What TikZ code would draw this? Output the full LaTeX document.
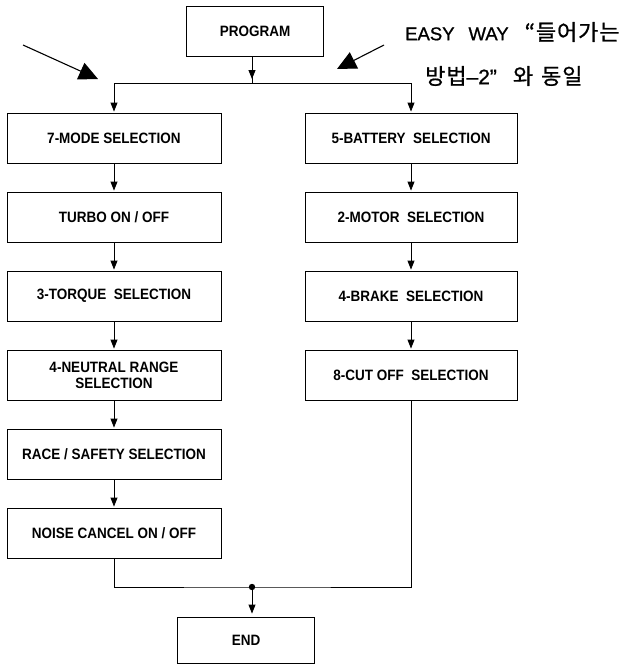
\documentclass[tikz,border=0pt]{standalone}
\usepackage{fontspec}
\setmainfont[FakeStretch=0.9]{Liberation Sans}
\newfontfamily\latfont[FakeBold=1]{Liberation Sans}
\newfontfamily\korfont[LetterSpace=4,FakeBold=0.8]{Noto Sans CJK KR}
\usepackage{tikz}
\usetikzlibrary{
	arrows.meta,
	positioning,
	calc
}

\begin{document}
\begin{tikzpicture}[x=1pt,y=-1pt,
	box/.style={draw,line width=0.9pt,minimum width=214pt,minimum height=50pt,
		inner sep=0pt,align=center,font=\bfseries\fontsize{15}{16}\selectfont},
	flow/.style={line width=0.9pt},
	tip/.style={flow,-{Triangle[length=9pt,width=7pt]},shorten >=1pt},
	bigtip/.style={line width=1.1pt,-{Triangle[length=19pt,width=18pt]}},
	note/.style={inner sep=0pt,anchor=west}]
	
	\useasboundingbox (0,0) rectangle (629,664);
	
	\newcommand\eng[1]{{\latfont\fontsize{18.5}{21}\selectfont #1}}
	\newcommand\kor[1]{{\korfont\fontsize{22}{24}\selectfont #1}}
	
	% top and bottom
	\node[box,minimum width=137pt] (prog) at (255,31) {PROGRAM};
	\node[box,minimum width=137pt,minimum height=46pt] (stop) at (246,640) {END};
	
	% left column
	\node[box] (mode) at (114,138) {7-MODE SELECTION};
	\node[box] (turbo) at (114,217) {TURBO ON / OFF};
	\node[box] (torque) at (114,296) {3-TORQUE \ SELECTION};
	\node[box] (neutral) at (114,375) {4-NEUTRAL RANGE\\SELECTION};
	\node[box] (race) at (114,454) {RACE / SAFETY SELECTION};
	\node[box] (noise) at (114,533) {NOISE CANCEL ON / OFF};
	
	% right column
	\node[box,minimum width=212pt] (batt) at (411,138) {5-BATTERY \ SELECTION};
	\node[box,minimum width=212pt] (motor) at (411,217) {2-MOTOR \ SELECTION};
	\node[box,minimum width=212pt] (brake) at (411,296) {4-BRAKE \ SELECTION};
	\node[box,minimum width=212pt] (cutoff) at (411,375) {8-CUT OFF \ SELECTION};
	
	\coordinate (split) at (252,83);
	\coordinate (join) at (252,587);
	
	\draw[flow] (split |- prog.south) -- (split);
	\draw[tip,shorten >=4pt] (split |- prog.south) -- (split);
	\draw[flow] (mode.north |- split) -- (batt.north |- split);
	\draw[tip] (mode.north |- split) -- (mode.north);
	\draw[tip] (batt.north |- split) -- (batt.north);
	
	\foreach \a/\b in {mode/turbo,turbo/torque,torque/neutral,neutral/race,race/noise,
		batt/motor,motor/brake,brake/cutoff}
		\draw[tip] (\a) -- (\b);
	
	\draw[flow] (noise.south) |- (join) -| (cutoff.south);
	\fill (join) circle (3.2pt);
	\draw[tip,shorten >=3pt] (join) -- (join |- stop.north);
	
	% pointers
	\coordinate (ptrA) at (23,45);
	\coordinate (ptrB) at (98,79);
	\coordinate (ptrC) at (384,45);
	\coordinate (ptrD) at (337,69);
	\draw[bigtip] (ptrA) -- (ptrB);
	\draw[bigtip] (ptrC) -- (ptrD);
	
	\node[note] (note1) at (405,32) {\eng{EASY\hspace{14pt}WAY\hspace{16pt}}\kor{“들어가는}};
	\node[note] (note2) at (425,76) {\kor{방법}{\latfont\fontsize{21}{24}\selectfont –2”\hspace{16pt}}\kor{와\hspace{8pt}동일}};
	
\end{tikzpicture}
\end{document}
